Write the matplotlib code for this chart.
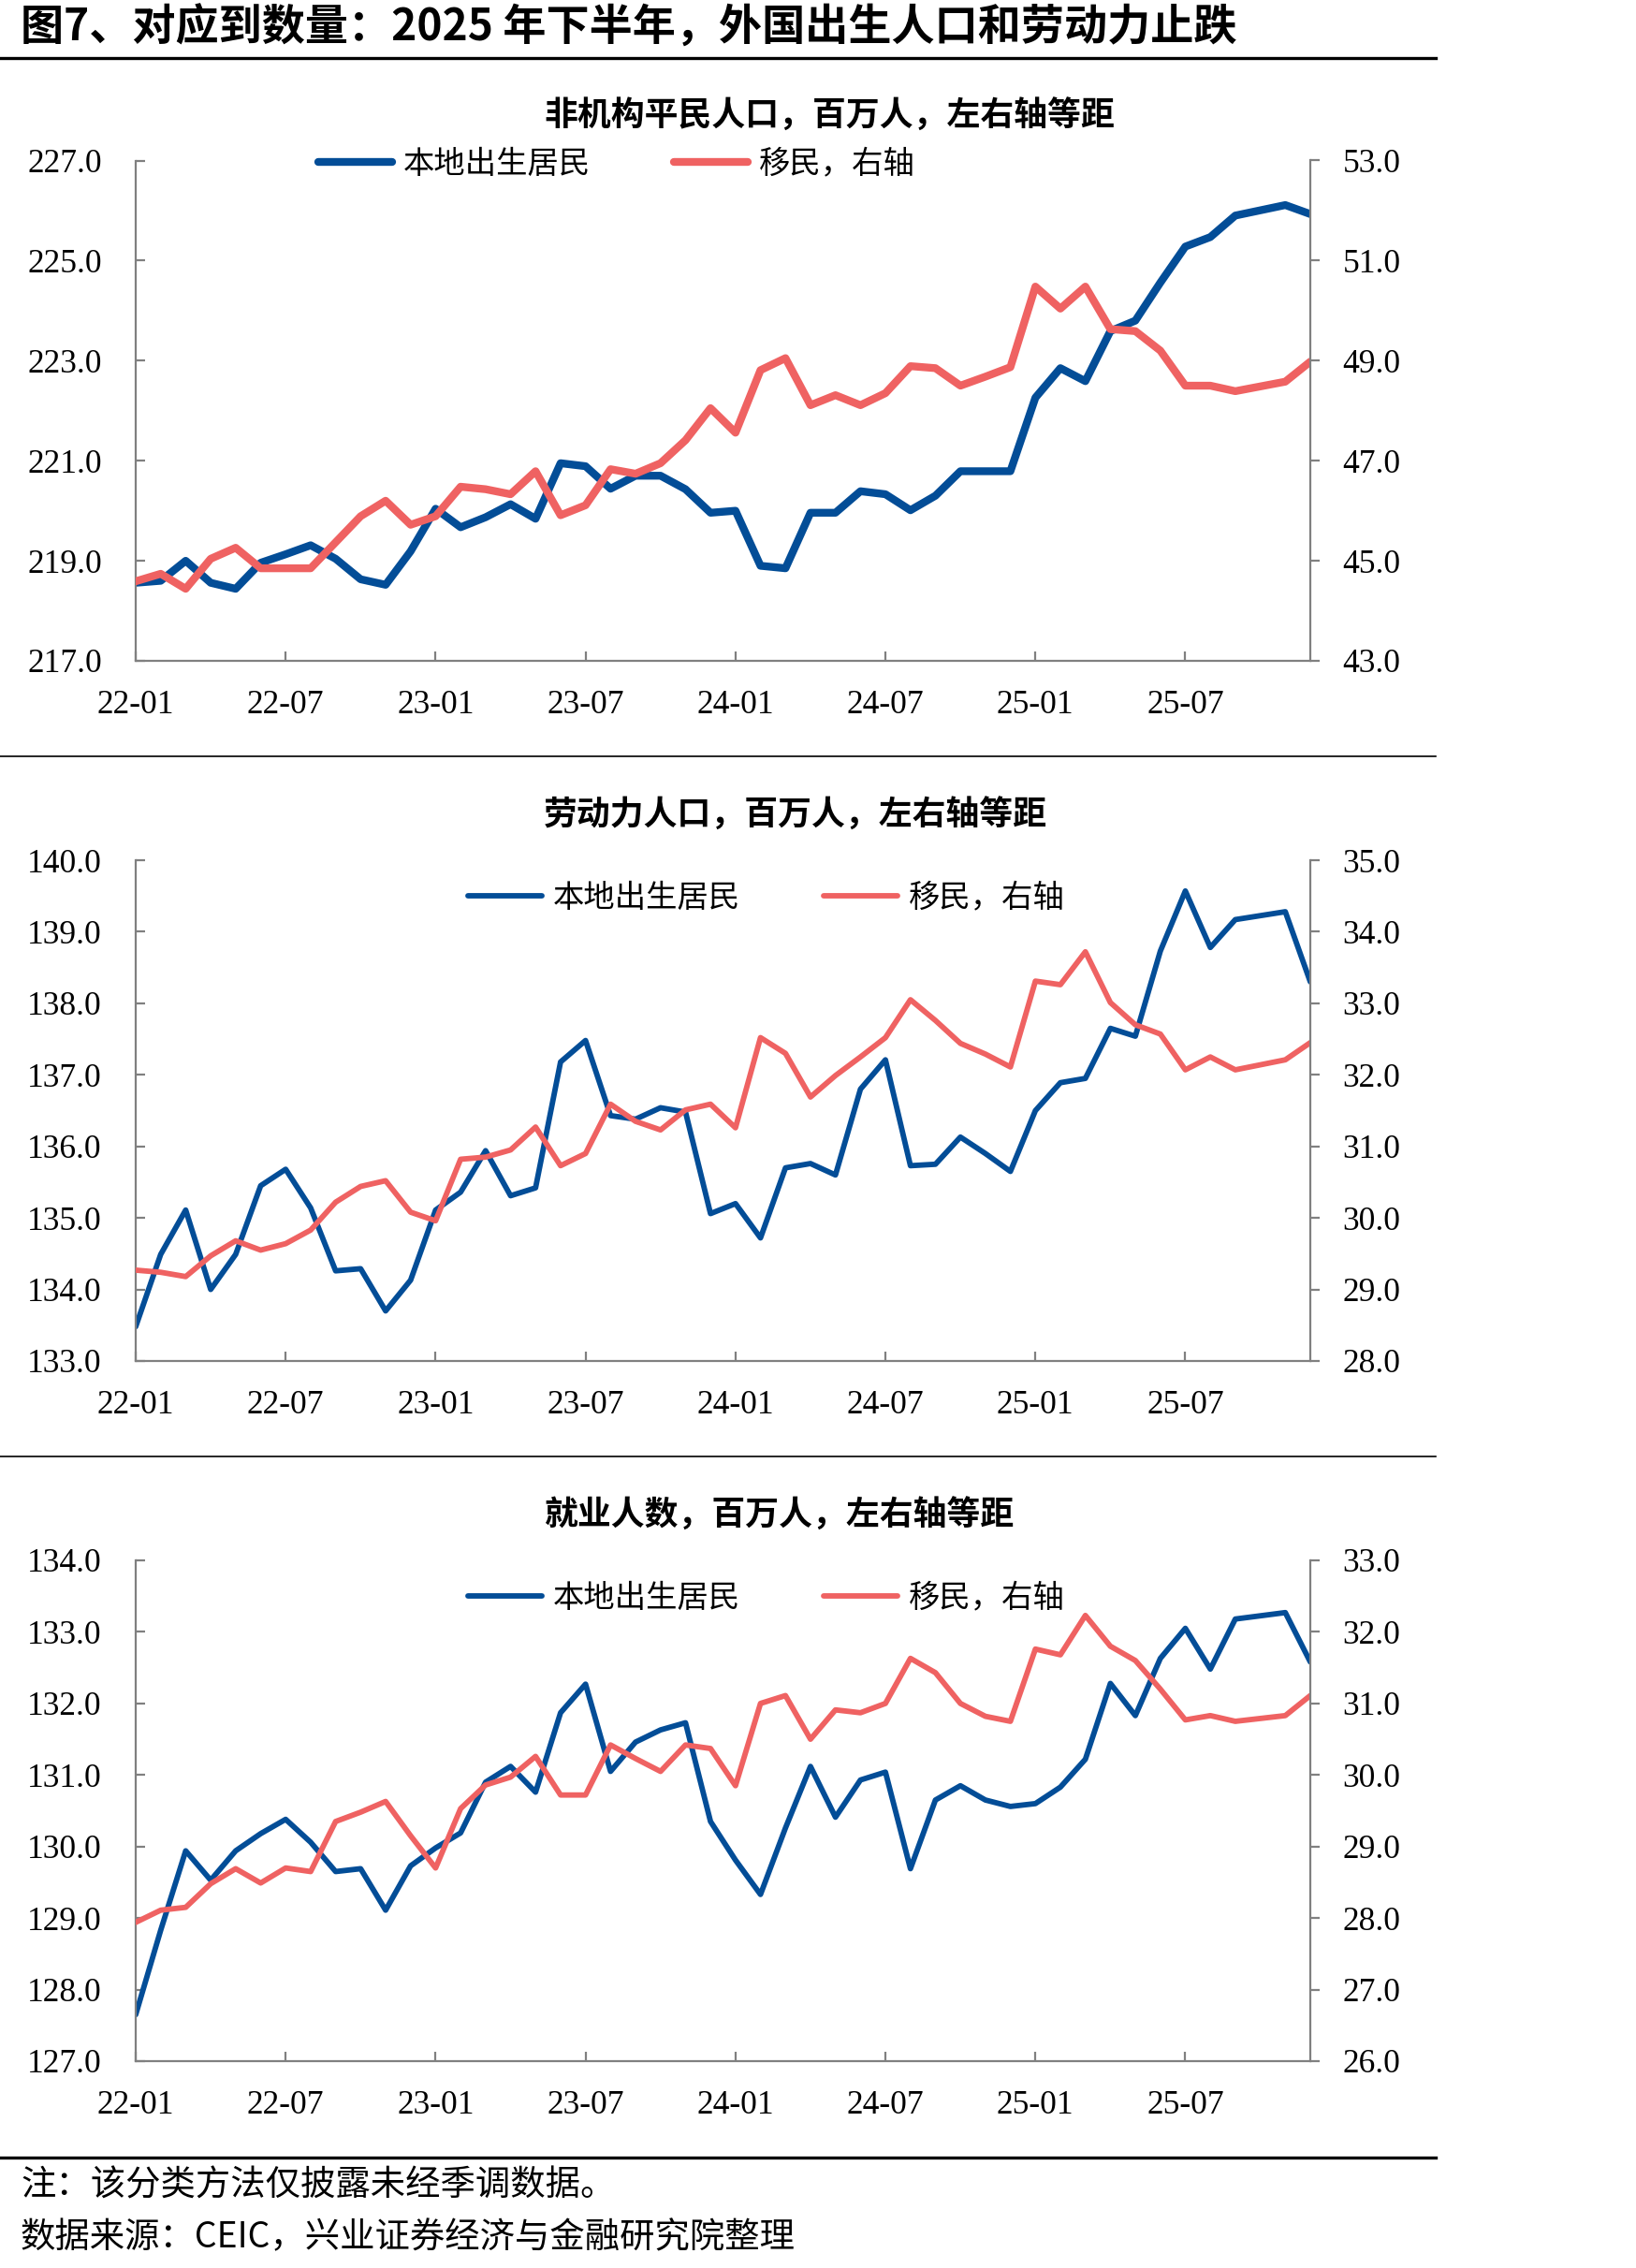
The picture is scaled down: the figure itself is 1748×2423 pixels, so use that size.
"""图7：非机构平民人口 / 劳动力人口 / 就业人数，本地出生居民 vs 移民（双轴）。"""

import matplotlib

matplotlib.use("Agg")
import matplotlib.pyplot as plt
import numpy as np
from matplotlib.lines import Line2D

CJK = ["Noto Sans CJK SC", "DejaVu Sans"]
SERIF = "Liberation Serif"
plt.rcParams["font.family"] = CJK

BLUE = "#034d97"
RED = "#ef6262"
GRAY = "#808080"

# 2022-01 .. 2025-12, monthly; 2025-10 missing (None)
x_tick_labels = ["22-01", "22-07", "23-01", "23-07", "24-01", "24-07", "25-01", "25-07"]

native_civ = [218.56, 218.60, 219.00, 218.56, 218.44, 218.96, 219.13, 219.31, 219.04, 218.63,
              218.52, 219.19, 220.04, 219.67, 219.87, 220.13, 219.84, 220.95, 220.89, 220.44,
              220.70, 220.70, 220.43, 219.96, 220.00, 218.90, 218.85, 219.96, 219.96, 220.39,
              220.33, 220.01, 220.30, 220.79, 220.79, 220.79, 222.26, 222.85, 222.59, 223.59,
              223.80, 224.56, 225.28, 225.47, 225.90, None, 226.11, 225.93]
immig_civ = [44.59, 44.74, 44.44, 45.04, 45.26, 44.85, 44.85, 44.85, 45.37, 45.89,
             46.20, 45.72, 45.89, 46.48, 46.43, 46.33, 46.79, 45.91, 46.11, 46.83,
             46.74, 46.95, 47.41, 48.05, 47.56, 48.81, 49.05, 48.11, 48.31, 48.11,
             48.35, 48.89, 48.85, 48.50, 48.68, 48.87, 50.48, 50.04, 50.48, 49.63,
             49.59, 49.20, 48.50, 48.50, 48.39, None, 48.58, 48.98]

native_lab = [133.48, 134.49, 135.11, 134.00, 134.49, 135.45, 135.68, 135.14, 134.26, 134.29,
              133.70, 134.13, 135.11, 135.36, 135.94, 135.31, 135.42, 137.18, 137.48, 136.43,
              136.38, 136.54, 136.48, 135.06, 135.20, 134.72, 135.70, 135.76, 135.60, 136.80,
              137.21, 135.73, 135.75, 136.13, 135.90, 135.65, 136.50, 136.89, 136.95, 137.65,
              137.54, 138.73, 139.57, 138.78, 139.17, None, 139.28, 138.30]
immig_lab = [29.27, 29.24, 29.18, 29.47, 29.68, 29.55, 29.64, 29.83, 30.22, 30.44,
             30.52, 30.08, 29.96, 30.82, 30.85, 30.95, 31.27, 30.73, 30.90, 31.59,
             31.35, 31.23, 31.51, 31.59, 31.26, 32.52, 32.30, 31.69, 31.99, 32.25,
             32.52, 33.05, 32.76, 32.44, 32.29, 32.11, 33.31, 33.26, 33.72, 33.01,
             32.70, 32.57, 32.07, 32.25, 32.07, None, 32.21, 32.45]

native_emp = [127.65, 128.83, 129.94, 129.53, 129.94, 130.18, 130.38, 130.06, 129.65, 129.69,
              129.11, 129.73, 129.98, 130.19, 130.90, 131.12, 130.76, 131.87, 132.27, 131.05,
              131.46, 131.63, 131.73, 130.35, 129.81, 129.33, 130.26, 131.12, 130.41, 130.93,
              131.04, 129.69, 130.65, 130.85, 130.65, 130.56, 130.60, 130.83, 131.22, 132.28,
              131.83, 132.63, 133.05, 132.48, 133.18, None, 133.27, 132.58]
immig_emp = [27.94, 28.11, 28.15, 28.48, 28.69, 28.49, 28.70, 28.65, 29.35, 29.48,
             29.63, 29.15, 28.70, 29.53, 29.86, 29.97, 30.26, 29.72, 29.72, 30.42,
             30.23, 30.05, 30.42, 30.37, 29.85, 31.00, 31.11, 30.50, 30.91, 30.87,
             31.00, 31.63, 31.43, 31.00, 30.82, 30.75, 31.76, 31.68, 32.23, 31.80,
             31.60, 31.20, 30.77, 30.83, 30.75, None, 30.83, 31.11]

left_ticks_civ = [217, 219, 221, 223, 225, 227]
right_ticks_civ = [43, 45, 47, 49, 51, 53]
left_ticks_lab = [133, 134, 135, 136, 137, 138, 139, 140]
right_ticks_lab = [28, 29, 30, 31, 32, 33, 34, 35]
left_ticks_emp = [127, 128, 129, 130, 131, 132, 133, 134]
right_ticks_emp = [26, 27, 28, 29, 30, 31, 32, 33]

W, H = 1749, 2423


def fx(px):
    return px / W


def fy(px):
    return 1 - px / H


def draw_panel(fig, top, bottom, title, title_y, native, immig, lticks, rticks, lw, legend_xy):
    ax = fig.add_axes([fx(145), fy(bottom), fx(1400) - fx(145), (bottom - top) / H])
    ax2 = ax.twinx()

    months = np.arange(len(native))
    nat = np.array([np.nan if v is None else v for v in native])
    imm = np.array([np.nan if v is None else v for v in immig])
    ok_n = ~np.isnan(nat)
    ok_i = ~np.isnan(imm)

    (l1,) = ax.plot(months[ok_n], nat[ok_n], color=BLUE, lw=lw,
                    solid_capstyle="round", solid_joinstyle="round")
    (l2,) = ax2.plot(months[ok_i], imm[ok_i], color=RED, lw=lw,
                     solid_capstyle="round", solid_joinstyle="round")

    ax.set_xlim(0, len(native) - 1)
    ax.set_ylim(lticks[0], lticks[-1])
    ax2.set_ylim(rticks[0], rticks[-1])

    ax.set_xticks(np.arange(0, 48, 6), labels=x_tick_labels, fontfamily=SERIF, fontsize=25.5)
    ax.set_yticks(lticks, labels=[f"{t:.1f}" for t in lticks], fontfamily=SERIF, fontsize=25.5)
    ax2.set_yticks(rticks, labels=[f"{t:.1f}" for t in rticks], fontfamily=SERIF, fontsize=25.5)

    for a in (ax, ax2):
        a.spines["top"].set_visible(False)
        for s in a.spines.values():
            s.set_color(GRAY)
            s.set_linewidth(1.6)
    ax.spines["right"].set_visible(False)
    ax2.spines["left"].set_visible(False)
    ax2.spines["bottom"].set_visible(False)

    ax.tick_params(axis="y", direction="in", length=7, width=1.6, color=GRAY, pad=26)
    ax.tick_params(axis="x", direction="in", length=7, width=1.6, color=GRAY, pad=22)
    ax2.tick_params(axis="y", direction="out", length=7, width=1.6, color=GRAY, pad=18)
    ax.patch.set_visible(False)

    fig.text(fx(581), fy(title_y), title, ha="left", va="center",
             fontsize=25.8, fontweight="bold", family=CJK)

    ax2.legend([l1, l2], ["本地出生居民", "移民，右轴"], loc="center left",
               bbox_to_anchor=(fx(legend_xy[0]), fy(legend_xy[1])),
               bbox_transform=fig.transFigure, ncol=2, frameon=False,
               borderpad=0, borderaxespad=0, handlelength=2.37,
               handletextpad=0.36, columnspacing=2.65,
               prop={"family": CJK, "size": 24})


fig = plt.figure(figsize=(W / 100, H / 100), dpi=100)

fig.text(fx(22), fy(30), "图7、对应到数量：2025 年下半年，外国出生人口和劳动力止跌",
         ha="left", va="center", fontsize=33.2, fontweight="bold", family=CJK)
for y, lwid in [(62, 2.4), (808, 1.2), (1556, 1.2), (2305, 2.4)]:
    fig.add_artist(Line2D([0, fx(1534)], [fy(y), fy(y)], color="black", lw=lwid,
                          transform=fig.transFigure))

draw_panel(fig, 171.5, 706, "非机构平民人口，百万人，左右轴等距", 124,
           native_civ, immig_civ, left_ticks_civ, right_ticks_civ, 6.0, (340, 175))
draw_panel(fig, 919, 1454, "劳动力人口，百万人，左右轴等距", 871,
           native_lab, immig_lab, left_ticks_lab, right_ticks_lab, 4.2, (500, 959))
draw_panel(fig, 1667, 2202, "就业人数，百万人，左右轴等距", 1619,
           native_emp, immig_emp, left_ticks_emp, right_ticks_emp, 4.2, (500, 1707))

fig.text(fx(22), fy(2335), "注：该分类方法仅披露未经季调数据。", ha="left", va="center",
         fontsize=26.9, family=CJK)
fig.text(fx(22), fy(2391), "数据来源：CEIC，兴业证券经济与金融研究院整理", ha="left",
         va="center", fontsize=26.9, family=CJK)

fig.savefig("out.png", dpi=100)
plt.close(fig)
